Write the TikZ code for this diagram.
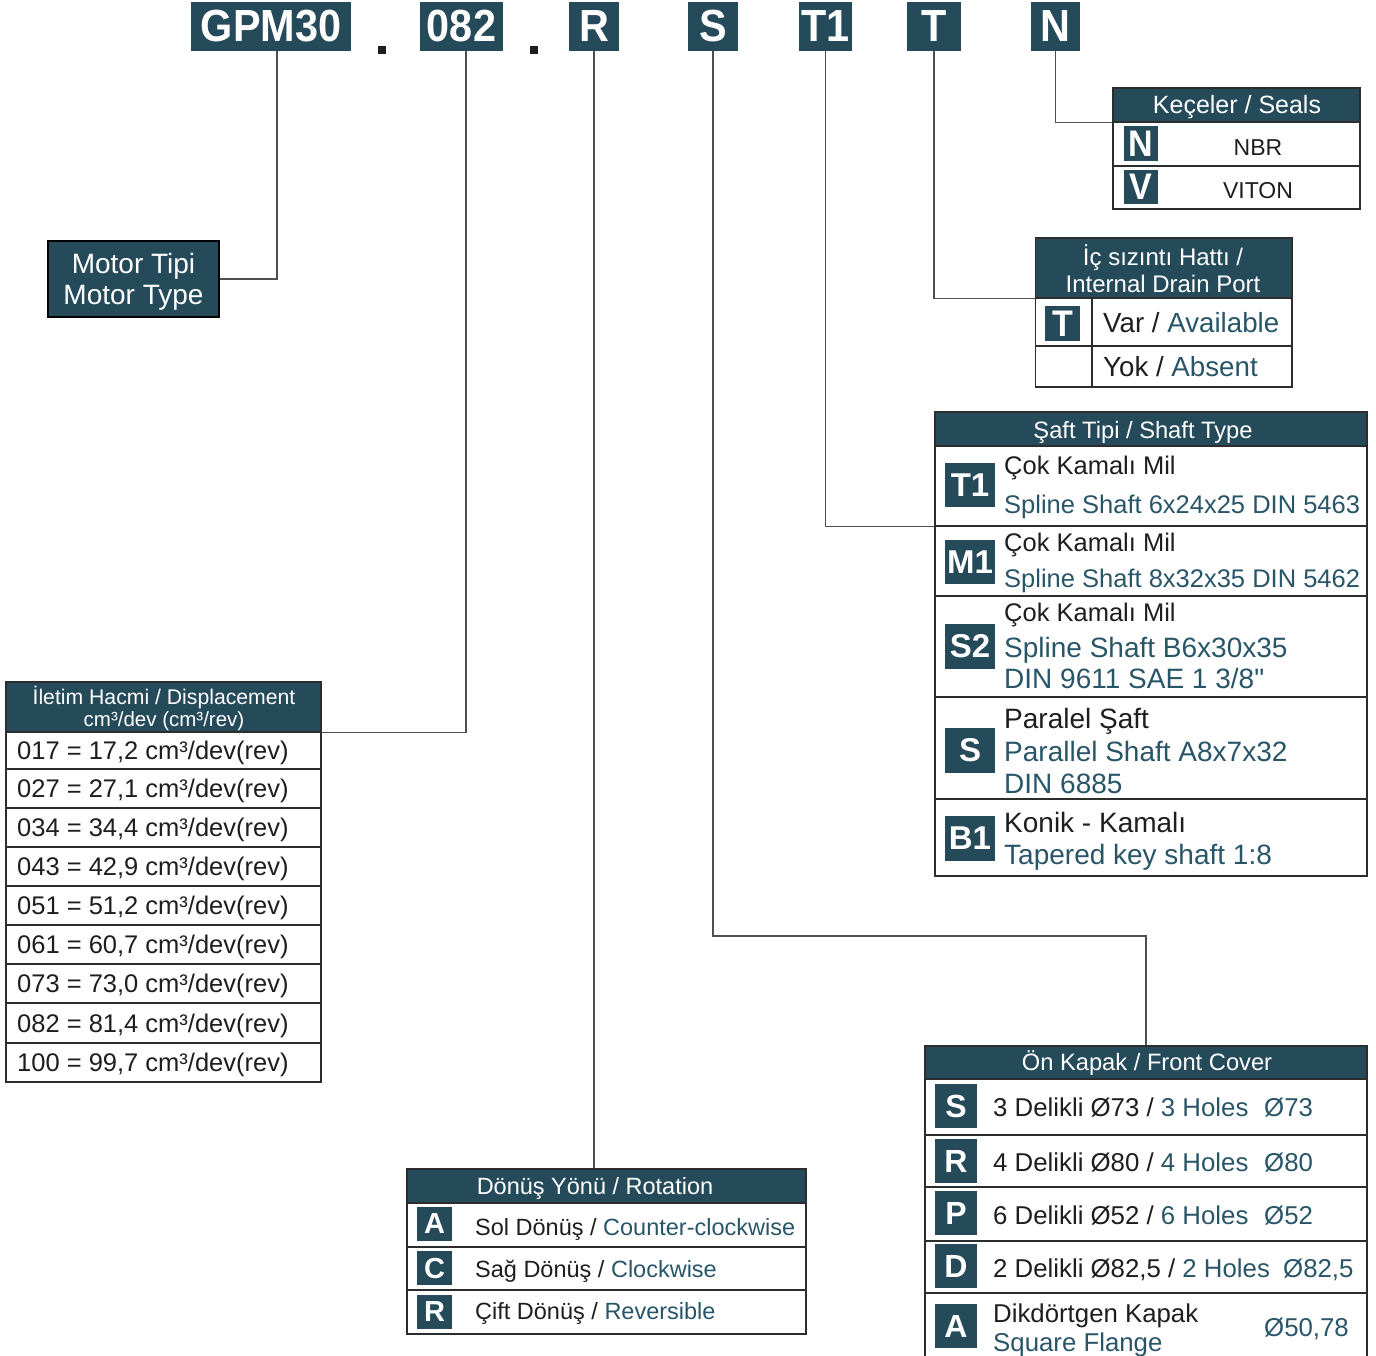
\documentclass[tikz,border=0pt]{standalone}
\usepackage{fontspec}
\setmainfont{Liberation Sans}
\newfontfamily\codefont[FakeStretch=0.92]{Liberation Sans}
\newfontfamily\qfont[Ligatures=TeXOff]{Liberation Sans}
\definecolor{hdrteal}{RGB}{37,74,89}
\definecolor{entxt}{RGB}{40,86,104}
\definecolor{bordc}{RGB}{45,45,45}
\definecolor{connc}{RGB}{80,80,80}
\definecolor{blk}{RGB}{30,30,30}
\newcommand\myfs[1]{\fontsize{#1}{#1}\selectfont}
\newcommand\entx[1]{\textcolor{entxt}{#1}}
\tikzset{
 codebox/.style={fill=hdrteal, text=white, inner sep=0, minimum height=49, font=\codefont\bfseries\myfs{45}},
 hdr/.style={draw=bordc, fill=hdrteal, line width=1.3, inner sep=0},
 cellbox/.style={draw=bordc, line width=1.3, inner sep=0},
 badge/.style={fill=hdrteal, text=white, inner sep=0},
 lbl/.style={inner sep=0, anchor=base west, font=\myfs{#1}, yshift=-0.358*#1, text=blk},
 ctr/.style={inner sep=0, anchor=base, font=\myfs{#1}, yshift=-0.358*#1, text=blk},
 hl/.style={inner sep=0, anchor=base, font=\myfs{#1}, yshift=-0.358*#1, text=white},
 conn/.style={draw=connc, line width=1.3},
}
\begin{document}
\begin{tikzpicture}[x=1pt,y=-1pt]
\useasboundingbox[fill=white] (0,0) rectangle (1376,1355);

% ---------- top code ----------
\node[codebox, minimum width=160] (gpm) at (271,26) {GPM30};
\node[codebox, minimum width=83] (c082) at (461.5,26) {082};
\node[codebox, minimum width=50] (cR) at (594,26) {R};
\node[codebox, minimum width=50] (cS) at (713,26) {S};
\node[codebox, minimum width=53] (cT1) at (825.5,26) {T1};
\node[codebox, minimum width=54] (cT) at (934,26) {T};
\node[codebox, minimum width=49] (cN) at (1055.5,26) {N};
\fill[blk] (378,46) rectangle (386,54);
\fill[blk] (530,46) rectangle (538,54);

% ---------- motor type ----------
\node[hdr, draw=black, minimum width=171, minimum height=76] (motor) at (133.5,279) {};
\node[hl=28] at (133.5,263) {Motor Tipi};
\node[hl=28] at (133.5,294) {Motor Type};
\draw[conn] ([xshift=6]gpm.south) |- (motor.east);

% ---------- displacement ----------
\node[hdr, minimum width=315, minimum height=50] (disphead) at (163.5,707) {};
\node[hl=21.2] at (164,697) {İletim Hacmi / Displacement};
\node[hl=20.5] at (164,719) {cm³/dev (cm³/rev)};
\foreach \rt/\rb/\rc/\rv [count=\i] in {732/769/017/{17,2},769/808/027/{27,1},808/847/034/{34,4},847/886/043/{42,9},886/925/051/{51,2},925/964/061/{60,7},964/1003/073/{73,0},1003/1043/082/{81,4},1043/1082/100/{99,7}}{
  \node[cellbox, minimum width=315, minimum height=\rb-\rt] (drow\i) at (163.5,{(\rt+\rb)/2}) {};
  \node[lbl=25.5] (dtxt\i) at (17,{(\rt+\rb)/2}) {\rc{} = \rv{} cm³/dev(rev)};
}
\draw[conn] ([xshift=4.5]c082.south) |- (disphead.south east);

% ---------- rotation ----------
\node[hdr, minimum width=399, minimum height=34] (rothead) at (606.5,1186) {};
\node[hl=23.5] at (595,1186) {Dönüş Yönü / Rotation};
\node[cellbox, minimum width=399, minimum height=44] (rotA) at (606.5,1225) {};
\node[cellbox, minimum width=399, minimum height=43] (rotC) at (606.5,1268.5) {};
\node[cellbox, minimum width=399, minimum height=44] (rotR) at (606.5,1312) {};
\node[badge, minimum width=35, minimum height=34, font=\bfseries\myfs{29}] (bA) at (434.5,1224) {A};
\node[badge, minimum width=35, minimum height=34, font=\bfseries\myfs{29}] (bC) at (434.5,1268) {C};
\node[badge, minimum width=35, minimum height=34, font=\bfseries\myfs{29}] (bR) at (434.5,1312) {R};
\node[lbl=23.5] at (475,1227) {Sol Dönüş / \entx{Counter-clockwise}};
\node[lbl=23.5] at (475,1269) {Sağ Dönüş / \entx{Clockwise}};
\node[lbl=23.5] at (475,1311) {Çift Dönüş / \entx{Reversible}};
\draw[conn] (cR.south) -- (cR.south |- rothead.north);

% ---------- shaft type ----------
\node[hdr, minimum width=432, minimum height=34] (shafthead) at (1151,429) {};
\node[hl=23.7] at (1143,430) {Şaft Tipi / Shaft Type};
\node[cellbox, minimum width=432, minimum height=80] (shT1) at (1151,486) {};
\node[cellbox, minimum width=432, minimum height=70] (shM1) at (1151,561) {};
\node[cellbox, minimum width=432, minimum height=101] (shS2) at (1151,646.5) {};
\node[cellbox, minimum width=432, minimum height=102] (shS) at (1151,748) {};
\node[cellbox, minimum width=432, minimum height=77] (shB1) at (1151,837.5) {};
\node[badge, minimum width=50, minimum height=44, font=\bfseries\myfs{33}] (bT1) at (970,485) {T1};
\node[badge, minimum width=50, minimum height=44, font=\bfseries\myfs{33}] (bM1) at (970,562) {M1};
\node[badge, minimum width=50, minimum height=45, font=\bfseries\myfs{33}] (bS2) at (970,646.5) {S2};
\node[badge, minimum width=50, minimum height=45, font=\bfseries\myfs{33}] (bSS) at (970,750.5) {S};
\node[badge, minimum width=50, minimum height=45, font=\bfseries\myfs{33}] (bB1) at (970,838.5) {B1};
\node[lbl=25.5] at (1004,465) {Çok Kamalı Mil};
\node[lbl=25.5, text=entxt] at (1004,504) {Spline Shaft 6x24x25 DIN 5463};
\node[lbl=25.5] at (1004,542) {Çok Kamalı Mil};
\node[lbl=25.5, text=entxt] at (1004,578) {Spline Shaft 8x32x35 DIN 5462};
\node[lbl=25.5] at (1004,612) {Çok Kamalı Mil};
\node[lbl=28, text=entxt] at (1004,647) {Spline Shaft B6x30x35};
\node[lbl=28, text=entxt] at (1004,678) {DIN 9611 SAE 1 3/8{\qfont"}};
\node[lbl=28] at (1004,718) {Paralel Şaft};
\node[lbl=28, text=entxt] at (1004,751) {Parallel Shaft A8x7x32};
\node[lbl=28, text=entxt] at (1004,783) {DIN 6885};
\node[lbl=28] at (1004,822) {Konik - Kamalı};
\node[lbl=28, text=entxt] at (1004,854) {Tapered key shaft 1:8};
\draw[conn] (cT1.south) |- (shT1.south west);

% ---------- internal drain ----------
\node[hdr, minimum width=256.5, minimum height=60] (drainhead) at (1163.75,268) {};
\node[hl=24] at (1163,257) {İç sızıntı Hattı /};
\node[hl=24] at (1163,284) {Internal Drain Port};
\node[cellbox, minimum width=256.5, minimum height=48] (drT) at (1163.75,322) {};
\node[cellbox, minimum width=256.5, minimum height=41] (drY) at (1163.75,366.5) {};
\draw[cellbox] (1092,298) -- (1092,387);
\node[badge, minimum width=35, minimum height=35, font=\codefont\bfseries\myfs{37}] (bT) at (1062.5,323.5) {T};
\node[lbl=27.7] at (1103,323) {Var / \entx{Available}};
\node[lbl=27.7] at (1103,367) {Yok / \entx{Absent}};
\draw[conn] (cT.south) |- (drainhead.south west);

% ---------- seals ----------
\node[hdr, minimum width=247, minimum height=34] (sealhead) at (1236.5,105) {};
\node[hl=25] at (1237,105) {Keçeler / Seals};
\node[cellbox, minimum width=247, minimum height=44] (seN) at (1236.5,144) {};
\node[cellbox, minimum width=247, minimum height=43] (seV) at (1236.5,187.5) {};
\node[badge, minimum width=34, minimum height=35, font=\codefont\bfseries\myfs{37}] (bN) at (1141,143.5) {N};
\node[badge, minimum width=34, minimum height=34, font=\codefont\bfseries\myfs{37}] (bV) at (1141,187) {V};
\node[ctr=23] at (1258,147) {NBR};
\node[ctr=23] at (1258,190) {VITON};
\draw[conn] (cN.south) |- (sealhead.south west);

% ---------- front cover ----------
\node[hdr, minimum width=442, minimum height=33] (fronthead) at (1146,1062.5) {};
\node[hl=23.7] at (1147,1062) {Ön Kapak / Front Cover};
\node[cellbox, minimum width=442, minimum height=56] (fcS) at (1146,1107) {};
\node[cellbox, minimum width=442, minimum height=52] (fcR) at (1146,1161) {};
\node[cellbox, minimum width=442, minimum height=54] (fcP) at (1146,1214) {};
\node[cellbox, minimum width=442, minimum height=52] (fcD) at (1146,1267) {};
\node[cellbox, minimum width=442, minimum height=77] (fcA) at (1146,1331.5) {};
\node[badge, minimum width=42, minimum height=44, font=\bfseries\myfs{32}] (bfS) at (956,1106) {S};
\node[badge, minimum width=42, minimum height=44, font=\bfseries\myfs{32}] (bfR) at (956,1161) {R};
\node[badge, minimum width=42, minimum height=44, font=\bfseries\myfs{32}] (bfP) at (956,1213) {P};
\node[badge, minimum width=42, minimum height=44, font=\bfseries\myfs{32}] (bfD) at (956,1266) {D};
\node[badge, minimum width=42, minimum height=44, font=\bfseries\myfs{32}] (bfA) at (956,1326) {A};
\node[lbl=25.8] at (993,1107) {3 Delikli Ø73 / \entx{3 Holes}};
\node[lbl=25.8, text=entxt] at (1264,1107) {Ø73};
\node[lbl=25.8] at (993,1162) {4 Delikli Ø80 / \entx{4 Holes}};
\node[lbl=25.8, text=entxt] at (1264,1162) {Ø80};
\node[lbl=25.8] at (993,1215) {6 Delikli Ø52 / \entx{6 Holes}};
\node[lbl=25.8, text=entxt] at (1264,1215) {Ø52};
\node[lbl=25.8] at (993,1268) {2 Delikli Ø82,5 / \entx{2 Holes}};
\node[lbl=25.8, text=entxt] at (1283,1268) {Ø82,5};
\node[lbl=25.8] at (993,1313) {Dikdörtgen Kapak};
\node[lbl=25.8, text=entxt] at (993,1342) {Square Flange};
\node[lbl=25.8, text=entxt] at (1264,1327) {Ø50,78};
\coordinate (sbend) at (1146,936);
\draw[conn] (cS.south) |- (sbend) -- (fronthead.north);
\end{tikzpicture}
\end{document}
